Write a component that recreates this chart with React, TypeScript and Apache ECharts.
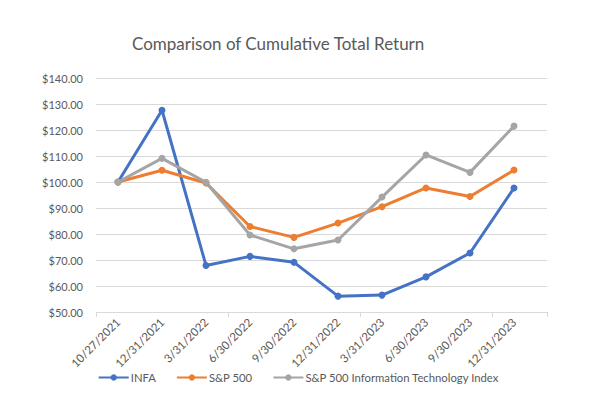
import React, { useEffect, useRef } from "react";
import * as echarts from "echarts";

const categories = [
  "10/27/2021", "12/31/2021", "3/31/2022", "6/30/2022", "9/30/2022",
  "12/31/2022", "3/31/2023", "6/30/2023", "9/30/2023", "12/31/2023",
];
const infa = [100, 127.6, 67.9, 71.4, 69.1, 56.1, 56.5, 63.5, 72.7, 97.7];
const sp500 = [100, 104.5, 99.6, 82.9, 78.7, 84.2, 90.5, 97.7, 94.4, 104.6];
const spIT = [100, 109.1, 99.9, 79.6, 74.3, 77.7, 94.2, 110.4, 103.7, 121.5];
const yTicks = { min: 50, max: 140, step: 10 };

const FONT = "Lato, 'Open Sans', sans-serif";
const TEXT = "#595959";

export default function App() {
  const ref = useRef<HTMLDivElement>(null);
  useEffect(() => {
    document.body.style.margin = "0";
    if (!ref.current) return;
    const chart = echarts.init(ref.current, undefined, { renderer: "svg" });
    // category i centred at 2i+1 on a doubled value scale; axis spans 0..20.5
    const pos = (i: number) => 2 * i + 1;
    const toData = (arr: number[]) => arr.map((v, i) => [pos(i), v]);
    const mk = (name: string, data: number[], color: string) => ({
      name,
      type: "line",
      xAxisIndex: 0,
      data: toData(data),
      symbol: "circle",
      symbolSize: 7,
      lineStyle: { width: 3, color },
      itemStyle: { color },
      color,
    });
    chart.setOption({
      animation: false,
      textStyle: { fontFamily: FONT },
      title: {
        text: "Comparison of Cumulative Total Return",
        left: 127,
        top: 30,
        textStyle: { fontFamily: FONT, fontSize: 17, fontWeight: "normal", color: TEXT },
      },
      legend: {
        bottom: 21,
        left: "center",
        itemWidth: 30,
        itemHeight: 8,
        itemGap: 20,
        textStyle: { fontFamily: FONT, fontSize: 11.3, color: TEXT, padding: [0, 0, 0, -3] },
        data: ["INFA", "S&P 500", "S&P 500 Information Technology Index"],
      },
      grid: { left: 96, right: 50, top: 78, bottom: 97 },
      xAxis: [
        {
          type: "value",
          min: 0,
          max: 20.5,
          interval: 1,
          position: "bottom",
          axisLine: { show: true, lineStyle: { color: "#d9d9d9" } },
          axisTick: { show: false },
          splitLine: { show: false },
          axisLabel: {
            rotate: 45,
            margin: 8,
            fontFamily: FONT,
            fontSize: 11.5,
            color: TEXT,
            showMaxLabel: false,
            formatter: (v: number) => {
              if (Math.abs(v - Math.round(v)) > 1e-6) return "";
              const r = Math.round(v);
              if (r % 2 === 1) {
                const idx = (r - 1) / 2;
                return categories[idx] ?? "";
              }
              return "";
            },
          },
        },
        {
          type: "value",
          min: 0,
          max: 20.5,
          interval: 6,
          position: "bottom",
          axisLine: { show: false },
          axisTick: { show: true, length: 5, lineStyle: { color: "#d9d9d9" } },
          splitLine: { show: false },
          axisLabel: { show: false },
        },
      ],
      yAxis: {
        type: "value",
        min: yTicks.min,
        max: yTicks.max,
        interval: yTicks.step,
        axisLine: { show: false },
        axisTick: { show: false },
        splitLine: { lineStyle: { color: "#d9d9d9" } },
        axisLabel: {
          fontFamily: FONT,
          fontSize: 11,
          color: TEXT,
          margin: 13,
          formatter: (v: number) => "$" + v.toFixed(2),
        },
      },
      series: [
        mk("INFA", infa, "#4472C4"),
        mk("S&P 500", sp500, "#ED7D31"),
        mk("S&P 500 Information Technology Index", spIT, "#A5A5A5"),
      ],
    });
    return () => chart.dispose();
  }, []);
  return <div ref={ref} style={{ width: 597, height: 409 }} />;
}
